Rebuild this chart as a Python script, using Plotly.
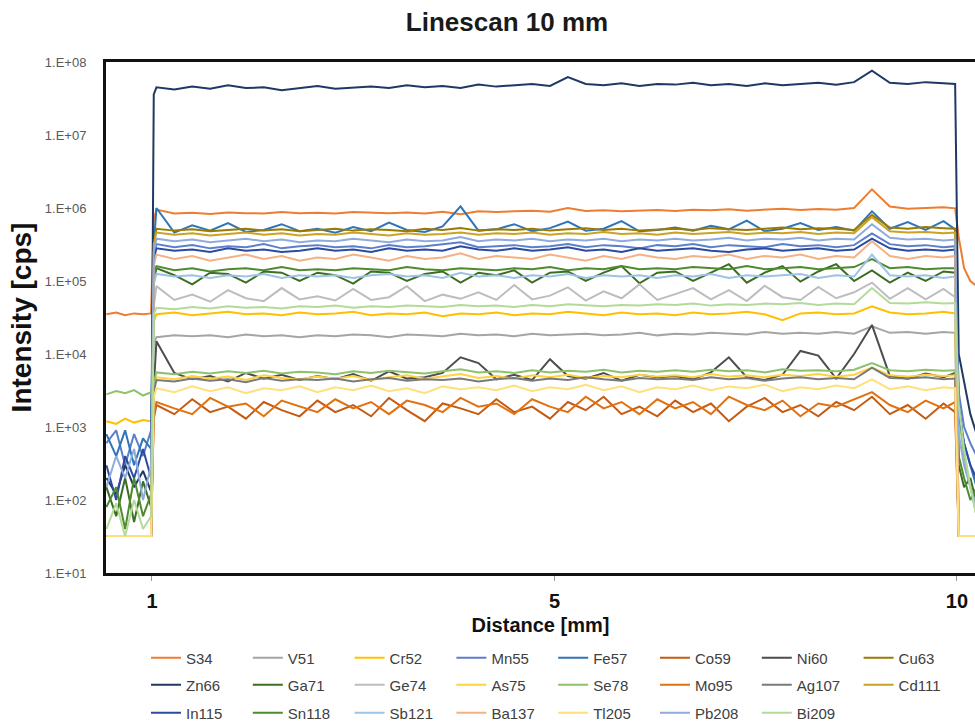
import plotly.graph_objects as go

# ---------------- data ----------------
pre_x = [0.49, 0.6, 0.7, 0.8, 0.9, 0.99]
plateau_x = [1.02, 1.05, 1.25, 1.45, 1.65, 1.85, 2.05, 2.25, 2.45, 2.65,
             2.85, 3.05, 3.25, 3.45, 3.65, 3.85, 4.05, 4.25, 4.45, 4.65,
             4.85, 5.05, 5.25, 5.45, 5.65, 5.85, 6.05, 6.25, 6.45, 6.65,
             6.85, 7.05, 7.25, 7.45, 7.65, 7.85, 8.05, 8.25, 8.45, 8.65,
             8.85, 9.05, 9.25, 9.45, 9.65, 9.85, 9.98]
tail_x = [10.02, 10.08, 10.15, 10.22, 10.3]
distance = pre_x + plateau_x + tail_x

x_tick_vals = [1, 5.5, 10]
x_tick_text = ["1", "5", "10"]
y_tick_vals = [1e1, 1e2, 1e3, 1e4, 1e5, 1e6, 1e7, 1e8]
y_tick_text = ["1.E+01", "1.E+02", "1.E+03", "1.E+04", "1.E+05", "1.E+06", "1.E+07", "1.E+08"]

floor_pre = [32, 32, 32, 32, 32, 32]
floor_tail = [32, 32, 32, 32, 32]

S34_pre = [3.5e4, 3.7e4, 3.4e4, 3.6e4, 3.5e4, 3.6e4]
S34_plat = [7.0e5, 9.5e5, 8.4e5, 8.6e5, 8.3e5, 8.7e5, 8.5e5, 8.4e5, 8.8e5, 8.5e5,
            8.6e5, 8.4e5, 8.8e5, 8.6e5, 8.5e5, 8.7e5, 8.4e5, 8.9e5, 8.2e5, 9.0e5,
            8.8e5, 9.0e5, 9.2e5, 8.9e5, 1.0e6, 9.1e5, 9.3e5, 9.0e5, 9.2e5, 9.4e5,
            9.1e5, 9.5e5, 9.3e5, 9.6e5, 9.2e5, 9.5e5, 9.8e5, 9.4e5, 9.7e5, 9.5e5,
            1.0e6, 1.8e6, 1.05e6, 9.8e5, 1.0e6, 1.02e6, 9.9e5]
S34_tail = [4.0e5, 1.5e5, 1.0e5, 8.5e4, 8.0e4]

V51_plat = [1.4e4, 1.7e4, 1.8e4, 1.75e4, 1.8e4, 1.7e4, 1.85e4, 1.75e4, 1.8e4, 1.7e4,
            1.8e4, 1.75e4, 1.85e4, 1.8e4, 1.7e4, 1.85e4, 1.8e4, 1.75e4, 1.9e4, 1.8e4,
            1.85e4, 1.75e4, 1.9e4, 1.8e4, 1.85e4, 1.9e4, 1.8e4, 1.85e4, 1.95e4, 1.8e4,
            1.9e4, 1.85e4, 1.95e4, 1.9e4, 1.85e4, 2.0e4, 1.9e4, 1.95e4, 1.9e4, 2.0e4,
            1.9e4, 2.4e4, 1.95e4, 2.0e4, 1.9e4, 2.0e4, 1.95e4]

Cr52_pre = [1.2e3, 1.1e3, 1.3e3, 1.15e3, 1.25e3, 1.2e3]
Cr52_plat = [2.8e4, 3.5e4, 3.7e4, 3.4e4, 3.6e4, 3.8e4, 3.5e4, 3.6e4, 3.4e4, 3.7e4,
             3.5e4, 3.6e4, 3.8e4, 3.4e4, 3.6e4, 3.5e4, 3.7e4, 3.3e4, 3.6e4, 3.5e4,
             3.7e4, 3.4e4, 3.6e4, 3.5e4, 3.8e4, 3.6e4, 3.4e4, 3.7e4, 3.5e4, 3.6e4,
             3.4e4, 3.7e4, 3.5e4, 3.6e4, 3.8e4, 3.5e4, 2.9e4, 3.6e4, 3.7e4, 3.5e4,
             3.6e4, 4.5e4, 3.7e4, 3.5e4, 3.6e4, 3.8e4, 3.6e4]

Mn55_pre = [6e2, 9e2, 3e2, 8e2, 4e2, 9e2]
Mn55_plat = [2.2e5, 3.2e5, 2.9e5, 3.1e5, 2.8e5, 3.0e5, 2.9e5, 3.2e5, 2.8e5, 3.0e5,
             3.1e5, 2.9e5, 3.0e5, 2.8e5, 3.1e5, 2.9e5, 3.0e5, 3.2e5, 3.4e5, 2.9e5,
             3.0e5, 3.1e5, 2.9e5, 3.0e5, 3.2e5, 2.9e5, 3.1e5, 3.0e5, 2.8e5, 3.1e5,
             3.0e5, 3.2e5, 2.9e5, 3.1e5, 3.0e5, 2.9e5, 3.2e5, 3.0e5, 3.1e5, 2.9e5,
             3.1e5, 4.5e5, 3.2e5, 3.0e5, 3.1e5, 2.9e5, 3.0e5]
Mn55_tail = [3e3, 1e3, 6e2, 4e2, 3e2]

Fe57_pre = [8e2, 4e2, 9e2, 3e2, 7e2, 5e2]
Fe57_plat = [3.0e5, 1.0e6, 4.6e5, 5.8e5, 4.9e5, 6.2e5, 4.7e5, 5.0e5, 6.0e5, 4.8e5,
             5.2e5, 4.6e5, 5.5e5, 4.8e5, 6.3e5, 5.0e5, 4.7e5, 5.6e5, 1.05e6, 4.9e5,
             5.1e5, 6.0e5, 4.8e5, 5.3e5, 6.5e5, 4.9e5, 5.2e5, 6.6e5, 4.8e5, 5.0e5,
             5.4e5, 4.9e5, 5.7e5, 5.1e5, 6.7e5, 4.8e5, 5.2e5, 6.2e5, 5.0e5, 5.5e5,
             4.9e5, 9.0e5, 5.2e5, 6.4e5, 5.0e5, 6.6e5, 5.1e5]
Fe57_tail = [2e3, 6e2, 3e2, 1.5e2, 1e2]

Co59_plat = [1.3e3, 2.0e3, 1.5e3, 2.4e3, 1.6e3, 1.9e3, 1.3e3, 2.2e3, 1.7e3, 1.4e3,
             2.3e3, 1.6e3, 2.0e3, 1.4e3, 2.5e3, 1.7e3, 1.2e3, 2.1e3, 1.8e3, 1.5e3,
             2.4e3, 1.6e3, 1.9e3, 1.3e3, 2.2e3, 1.7e3, 2.6e3, 1.5e3, 1.9e3, 1.4e3,
             2.3e3, 1.6e3, 2.1e3, 1.2e3, 1.9e3, 2.5e3, 1.6e3, 2.0e3, 1.4e3, 2.2e3,
             1.7e3, 2.6e3, 1.5e3, 2.0e3, 1.3e3, 2.1e3, 1.6e3]

Ni60_plat = [3.5e3, 1.5e4, 5.5e3, 4.5e3, 5.0e3, 4.2e3, 5.5e3, 4.6e3, 5.2e3, 4.4e3,
             5.0e3, 4.5e3, 5.3e3, 4.3e3, 5.8e3, 4.6e3, 4.8e3, 5.5e3, 9.0e3, 7.5e3,
             4.5e3, 5.2e3, 4.4e3, 8.5e3, 5.0e3, 4.6e3, 5.5e3, 4.3e3, 5.2e3, 4.8e3,
             5.0e3, 4.5e3, 5.6e3, 9.0e3, 4.8e3, 4.4e3, 5.2e3, 1.1e4, 9.5e3, 4.6e3,
             1.0e4, 2.5e4, 5.0e3, 4.6e3, 5.4e3, 4.8e3, 5.5e3]

Cu63_plat = [3.5e5, 5.2e5, 4.9e5, 5.1e5, 4.8e5, 5.0e5, 5.2e5, 4.9e5, 5.1e5, 4.8e5,
             5.0e5, 5.2e5, 4.9e5, 5.1e5, 5.0e5, 4.8e5, 5.2e5, 5.0e5, 5.3e5, 4.9e5,
             5.1e5, 5.0e5, 5.2e5, 4.9e5, 5.1e5, 5.3e5, 5.0e5, 5.2e5, 4.9e5, 5.1e5,
             5.2e5, 5.0e5, 5.3e5, 5.1e5, 5.0e5, 5.2e5, 5.4e5, 5.1e5, 5.3e5, 5.2e5,
             5.0e5, 8.0e5, 5.4e5, 5.2e5, 5.5e5, 5.3e5, 5.2e5]

Zn66_pre = [2e2, 1.2e2, 3e2, 1.5e2, 2.5e2, 1.3e2]
Zn66_plat = [3.6e7, 4.5e7, 4.2e7, 4.6e7, 4.3e7, 4.8e7, 4.4e7, 4.5e7, 4.1e7, 4.4e7,
             4.7e7, 4.3e7, 4.5e7, 4.6e7, 4.4e7, 4.8e7, 4.5e7, 4.7e7, 4.4e7, 4.9e7,
             4.6e7, 4.8e7, 5.0e7, 4.7e7, 6.2e7, 5.0e7, 4.8e7, 5.1e7, 4.7e7, 5.0e7,
             4.9e7, 5.2e7, 4.8e7, 5.0e7, 4.7e7, 5.1e7, 4.8e7, 5.0e7, 5.2e7, 4.9e7,
             5.3e7, 7.6e7, 5.2e7, 5.0e7, 5.3e7, 5.1e7, 5.0e7]
Zn66_tail = [1e4, 4e3, 1.5e3, 8e2, 5e2]

Ga71_pre = [1.5e2, 60, 2e2, 50, 1.8e2, 80]
Ga71_plat = [1.0e5, 1.5e5, 1.2e5, 9.0e4, 1.3e5, 1.25e5, 9.5e4, 1.35e5, 1.3e5, 1.0e5,
             1.3e5, 1.2e5, 9.2e4, 1.35e5, 1.3e5, 1.0e5, 1.25e5, 1.35e5, 9.5e4, 1.3e5,
             1.2e5, 1.4e5, 9.5e4, 1.3e5, 1.35e5, 1.0e5, 1.3e5, 1.6e5, 9.3e4, 1.3e5,
             1.35e5, 1.0e5, 1.3e5, 1.7e5, 9.5e4, 1.3e5, 1.6e5, 9.8e4, 1.35e5, 1.7e5,
             1.0e5, 1.4e5, 9.5e4, 1.3e5, 1.0e5, 1.35e5, 1.3e5]
Ga71_tail = [3e2, 1.5e2, 2e2, 90, 1.2e2]

Ge74_plat = [4.5e4, 8.5e4, 5.5e4, 6.5e4, 5.2e4, 7.5e4, 5.8e4, 5.3e4, 8.0e4, 5.6e4,
             6.2e4, 5.4e4, 7.8e4, 5.5e4, 6.0e4, 8.5e4, 5.3e4, 6.5e4, 5.7e4, 7.0e4,
             5.5e4, 8.8e4, 5.6e4, 6.3e4, 8.2e4, 5.4e4, 7.2e4, 5.8e4, 9.0e4, 5.5e4,
             6.6e4, 8.0e4, 5.6e4, 7.5e4, 5.3e4, 8.6e4, 6.0e4, 5.5e4, 8.3e4, 5.8e4,
             7.0e4, 9.5e4, 5.7e4, 8.0e4, 5.6e4, 7.8e4, 6.0e4]

As75_plat = [3.5e3, 4.8e3, 4.5e3, 5.0e3, 4.6e3, 4.9e3, 4.4e3, 5.1e3, 4.7e3, 4.5e3,
             4.9e3, 4.6e3, 5.0e3, 4.4e3, 4.8e3, 5.1e3, 4.6e3, 4.9e3, 5.3e3, 4.7e3,
             5.0e3, 4.6e3, 5.1e3, 4.8e3, 5.2e3, 4.7e3, 5.0e3, 4.8e3, 5.2e3, 4.9e3,
             5.1e3, 4.8e3, 5.3e3, 4.9e3, 5.1e3, 4.8e3, 5.2e3, 5.0e3, 5.3e3, 4.9e3,
             5.2e3, 6.5e3, 5.1e3, 4.9e3, 5.2e3, 5.0e3, 5.1e3]

Se78_pre = [2.8e3, 3.1e3, 2.9e3, 3.2e3, 2.7e3, 3.0e3]
Se78_plat = [4.0e3, 5.6e3, 5.3e3, 5.7e3, 5.4e3, 5.8e3, 5.5e3, 5.9e3, 5.4e3, 5.7e3,
             5.6e3, 5.3e3, 5.8e3, 5.5e3, 5.9e3, 5.6e3, 5.4e3, 5.8e3, 6.2e3, 5.6e3,
             5.8e3, 5.5e3, 6.0e3, 5.6e3, 5.9e3, 5.7e3, 6.1e3, 5.6e3, 5.9e3, 5.7e3,
             6.0e3, 5.7e3, 6.1e3, 5.8e3, 6.0e3, 5.6e3, 6.2e3, 5.9e3, 6.0e3, 5.8e3,
             6.1e3, 7.5e3, 6.0e3, 5.8e3, 6.1e3, 5.9e3, 6.0e3]
Se78_tail = [1.5e3, 4e2, 1.5e2, 60, 40]

Mo95_plat = [1.5e3, 2.2e3, 1.8e3, 1.5e3, 2.5e3, 1.9e3, 2.1e3, 1.4e3, 2.3e3, 1.9e3,
             1.6e3, 2.4e3, 1.8e3, 2.2e3, 1.5e3, 2.3e3, 2.0e3, 1.6e3, 2.5e3, 1.9e3,
             2.1e3, 1.5e3, 2.4e3, 1.9e3, 1.6e3, 2.6e3, 1.8e3, 2.2e3, 1.5e3, 2.4e3,
             1.8e3, 2.2e3, 1.5e3, 2.6e3, 2.0e3, 1.7e3, 2.3e3, 1.4e3, 2.1e3, 1.9e3,
             2.4e3, 3.0e3, 2.0e3, 1.6e3, 2.3e3, 1.8e3, 2.2e3]

Ag107_plat = [3.0e3, 4.4e3, 4.2e3, 4.6e3, 4.3e3, 4.5e3, 4.1e3, 4.7e3, 4.3e3, 4.5e3,
              4.4e3, 4.6e3, 4.2e3, 4.5e3, 4.7e3, 4.3e3, 4.5e3, 4.4e3, 4.6e3, 4.2e3,
              4.5e3, 4.7e3, 4.3e3, 4.6e3, 4.4e3, 4.8e3, 4.5e3, 4.3e3, 4.7e3, 4.5e3,
              4.6e3, 4.4e3, 4.8e3, 4.5e3, 4.7e3, 4.3e3, 4.6e3, 4.8e3, 4.5e3, 4.7e3,
              4.5e3, 6.5e3, 4.7e3, 4.6e3, 4.8e3, 4.5e3, 4.6e3]

Cd111_plat = [3.2e5, 4.6e5, 4.3e5, 4.5e5, 4.2e5, 4.4e5, 4.6e5, 4.3e5, 4.5e5, 4.2e5,
              4.4e5, 4.3e5, 4.6e5, 4.4e5, 4.2e5, 4.5e5, 4.3e5, 4.4e5, 4.6e5, 4.3e5,
              4.5e5, 4.4e5, 4.6e5, 4.3e5, 4.5e5, 4.4e5, 4.7e5, 4.4e5, 4.5e5, 4.3e5,
              4.6e5, 4.4e5, 4.5e5, 4.7e5, 4.4e5, 4.6e5, 4.5e5, 4.7e5, 4.4e5, 4.6e5,
              4.5e5, 7.5e5, 4.8e5, 4.6e5, 4.7e5, 4.5e5, 4.6e5]

In115_pre = [3e2, 1e2, 4e2, 2e2, 5e2, 2e2]
In115_plat = [2.0e5, 2.8e5, 2.6e5, 2.7e5, 2.5e5, 2.8e5, 2.6e5, 2.7e5, 2.5e5, 2.6e5,
              2.8e5, 2.6e5, 2.7e5, 2.5e5, 2.8e5, 2.6e5, 2.7e5, 2.6e5, 3.0e5, 2.7e5,
              2.6e5, 2.8e5, 2.6e5, 2.7e5, 2.9e5, 2.6e5, 2.7e5, 2.5e5, 2.8e5, 2.6e5,
              2.7e5, 2.8e5, 2.6e5, 2.5e5, 2.7e5, 2.8e5, 2.6e5, 2.7e5, 2.8e5, 2.6e5,
              2.7e5, 3.8e5, 2.8e5, 2.6e5, 2.7e5, 2.6e5, 2.7e5]
In115_tail = [1.5e3, 6e2, 3e2, 2e2, 1.2e2]

Sn118_pre = [80, 1.5e2, 40, 2e2, 60, 1.2e2]
Sn118_plat = [1.1e5, 1.6e5, 1.4e5, 1.5e5, 1.35e5, 1.45e5, 1.5e5, 1.4e5, 1.55e5, 1.4e5,
              1.45e5, 1.4e5, 1.5e5, 1.45e5, 1.4e5, 1.55e5, 1.45e5, 1.4e5, 1.5e5, 1.45e5,
              1.4e5, 1.5e5, 1.45e5, 1.55e5, 1.4e5, 1.5e5, 1.45e5, 1.6e5, 1.45e5, 1.5e5,
              1.45e5, 1.55e5, 1.5e5, 1.45e5, 1.6e5, 1.45e5, 1.5e5, 1.55e5, 1.45e5, 1.5e5,
              1.55e5, 2.0e5, 1.5e5, 1.55e5, 1.45e5, 1.5e5, 1.5e5]
Sn118_tail = [4e2, 2e2, 1e2, 1.5e2, 80]

Sb121_plat = [9.0e4, 1.25e5, 1.15e5, 1.2e5, 1.1e5, 1.2e5, 1.15e5, 1.25e5, 1.1e5, 1.2e5,
              1.15e5, 1.2e5, 1.1e5, 1.2e5, 1.25e5, 1.15e5, 1.2e5, 1.1e5, 1.3e5, 1.15e5,
              1.2e5, 1.1e5, 1.2e5, 1.15e5, 1.25e5, 1.1e5, 1.2e5, 1.15e5, 1.2e5, 1.1e5,
              1.2e5, 1.15e5, 1.25e5, 1.1e5, 1.2e5, 1.15e5, 1.2e5, 1.25e5, 1.1e5, 1.2e5,
              1.15e5, 2.3e5, 1.2e5, 1.15e5, 1.2e5, 1.1e5, 1.15e5]

Ba137_plat = [1.6e5, 2.3e5, 2.0e5, 2.2e5, 1.9e5, 2.1e5, 2.3e5, 2.0e5, 2.2e5, 1.9e5,
              2.1e5, 2.0e5, 2.3e5, 2.1e5, 1.9e5, 2.2e5, 2.0e5, 2.1e5, 2.4e5, 2.0e5,
              2.2e5, 2.1e5, 2.0e5, 2.3e5, 2.1e5, 1.9e5, 2.2e5, 2.0e5, 2.3e5, 2.1e5,
              2.0e5, 2.2e5, 2.1e5, 2.3e5, 2.0e5, 2.2e5, 2.1e5, 2.3e5, 2.0e5, 2.2e5,
              2.1e5, 3.5e5, 2.2e5, 2.0e5, 2.2e5, 2.1e5, 2.2e5]

Tl205_plat = [2.5e3, 3.4e3, 3.0e3, 3.6e3, 3.1e3, 3.5e3, 2.9e3, 3.4e3, 3.2e3, 3.6e3,
              3.0e3, 3.5e3, 3.2e3, 3.7e3, 3.1e3, 3.4e3, 2.9e3, 3.6e3, 3.3e3, 3.5e3,
              3.2e3, 3.7e3, 3.1e3, 3.5e3, 3.3e3, 3.8e3, 3.2e3, 3.6e3, 3.0e3, 3.5e3,
              3.3e3, 3.7e3, 3.2e3, 3.6e3, 3.4e3, 3.8e3, 3.1e3, 3.5e3, 3.3e3, 3.7e3,
              3.4e3, 4.5e3, 3.3e3, 3.6e3, 3.2e3, 3.5e3, 3.4e3]

Pb208_pre = [1.5e2, 4e2, 2e2, 5e2, 1e2, 3e2]
Pb208_plat = [2.5e5, 3.8e5, 3.5e5, 3.7e5, 3.4e5, 3.6e5, 3.8e5, 3.5e5, 3.7e5, 3.4e5,
              3.6e5, 3.5e5, 3.8e5, 3.6e5, 3.4e5, 3.7e5, 3.5e5, 3.6e5, 4.0e5, 3.5e5,
              3.7e5, 3.6e5, 3.8e5, 3.5e5, 3.7e5, 3.6e5, 3.8e5, 3.5e5, 3.7e5, 3.6e5,
              3.8e5, 3.6e5, 3.7e5, 3.9e5, 3.6e5, 3.8e5, 3.7e5, 3.9e5, 3.6e5, 3.8e5,
              3.7e5, 6.0e5, 3.9e5, 3.7e5, 3.8e5, 3.6e5, 3.7e5]
Pb208_tail = [8e2, 3e2, 1.5e2, 80, 50]

Bi209_pre = [40, 90, 32, 1.0e2, 40, 60]
Bi209_plat = [3.5e4, 4.3e4, 4.1e4, 4.4e4, 4.2e4, 4.5e4, 4.3e4, 4.4e4, 4.2e4, 4.5e4,
              4.4e4, 4.6e4, 4.3e4, 4.5e4, 4.4e4, 4.6e4, 4.5e4, 4.4e4, 4.7e4, 4.5e4,
              4.6e4, 4.4e4, 4.7e4, 4.5e4, 4.8e4, 4.6e4, 4.5e4, 4.7e4, 4.6e4, 4.8e4,
              4.7e4, 4.9e4, 4.6e4, 4.8e4, 4.7e4, 4.9e4, 4.8e4, 5.0e4, 4.7e4, 4.9e4,
              4.8e4, 8.0e4, 5.0e4, 4.9e4, 5.1e4, 4.9e4, 5.0e4]
Bi209_tail = [2e3, 5e2, 1.5e2, 60, 40]

series = [
    ("S34", S34_pre + S34_plat + S34_tail),
    ("V51", floor_pre + V51_plat + floor_tail),
    ("Cr52", Cr52_pre + Cr52_plat + floor_tail),
    ("Mn55", Mn55_pre + Mn55_plat + Mn55_tail),
    ("Fe57", Fe57_pre + Fe57_plat + Fe57_tail),
    ("Co59", floor_pre + Co59_plat + floor_tail),
    ("Ni60", floor_pre + Ni60_plat + floor_tail),
    ("Cu63", floor_pre + Cu63_plat + floor_tail),
    ("Zn66", Zn66_pre + Zn66_plat + Zn66_tail),
    ("Ga71", Ga71_pre + Ga71_plat + Ga71_tail),
    ("Ge74", floor_pre + Ge74_plat + floor_tail),
    ("As75", floor_pre + As75_plat + floor_tail),
    ("Se78", Se78_pre + Se78_plat + Se78_tail),
    ("Mo95", floor_pre + Mo95_plat + floor_tail),
    ("Ag107", floor_pre + Ag107_plat + floor_tail),
    ("Cd111", floor_pre + Cd111_plat + floor_tail),
    ("In115", In115_pre + In115_plat + In115_tail),
    ("Sn118", Sn118_pre + Sn118_plat + Sn118_tail),
    ("Sb121", floor_pre + Sb121_plat + floor_tail),
    ("Ba137", floor_pre + Ba137_plat + floor_tail),
    ("Tl205", floor_pre + Tl205_plat + floor_tail),
    ("Pb208", Pb208_pre + Pb208_plat + Pb208_tail),
    ("Bi209", Bi209_pre + Bi209_plat + Bi209_tail),
]

# ---------------- styles ----------------
colors = {
    "S34": "#ED7D31", "V51": "#A5A5A5", "Cr52": "#FFC000", "Mn55": "#5B7FCC",
    "Fe57": "#2E75B6", "Co59": "#C55A11", "Ni60": "#4D4D4D", "Cu63": "#9C7A00",
    "Zn66": "#1F3864", "Ga71": "#3B6E22", "Ge74": "#BDBDBD", "As75": "#FFD23F",
    "Se78": "#8DC26A", "Mo95": "#E2700F", "Ag107": "#7A7A7A", "Cd111": "#C9A227",
    "In115": "#2B4BA0", "Sn118": "#4E8A2E", "Sb121": "#9DC3E6", "Ba137": "#F4B183",
    "Tl205": "#FFE07A", "Pb208": "#8FAADC", "Bi209": "#B4DA9A",
}

for name, vals in series:
    assert len(vals) == len(distance), (name, len(vals))

legend_ids = ["legend", "legend2", "legend3"]

fig = go.Figure()
for i, (name, vals) in enumerate(series):
    fig.add_trace(go.Scatter(x=distance, y=vals, mode="lines", name=name,
                             legend=legend_ids[i // 8],
                             line=dict(color=colors[name], width=2)))

FONT = "Liberation Sans, Arial, sans-serif"
leg_common = dict(orientation="h", xref="container", yref="container",
                  x=146 / 975, xanchor="left", yanchor="middle",
                  entrywidth=56.8, entrywidthmode="pixels",
                  font=dict(family=FONT, size=15, color="#404040"),
                  traceorder="normal", itemwidth=30, bgcolor="rgba(0,0,0,0)")
row_centers = [658, 685, 713]

fig.update_layout(
    width=975, height=726,
    margin=dict(l=106, r=0, t=62, b=153),
    paper_bgcolor="white", plot_bgcolor="white",
    font=dict(family=FONT, color="#222"),
    title=dict(text="<b>Linescan 10 mm</b>", x=507 / 975, xanchor="center",
               y=1 - 22 / 726, yanchor="middle",
               font=dict(family=FONT, size=26, color="#1a1a1a")),
    legend=dict(y=1 - row_centers[0] / 726, **leg_common),
    legend2=dict(y=1 - row_centers[1] / 726, **leg_common),
    legend3=dict(y=1 - row_centers[2] / 726, **leg_common),
    showlegend=True,
)
fig.update_xaxes(range=[0.486, 10.202], showline=True, linecolor="#111", linewidth=3,
                 mirror=True, showgrid=False, zeroline=False,
                 tickvals=x_tick_vals, ticktext=x_tick_text, ticks="outside",
                 ticklen=5, tickwidth=1, tickcolor="#999", ticklabelstandoff=3,
                 tickfont=dict(family=FONT, size=20, color="#111", weight="bold"),
                 title=dict(text="<b>Distance [mm]</b>", standoff=7,
                            font=dict(family=FONT, size=20, color="#111")),
                 automargin=False)
fig.update_yaxes(type="log", range=[1, 8], showline=True, linecolor="#111", linewidth=3,
                 showgrid=False, zeroline=False, ticks="",
                 tickvals=y_tick_vals, ticktext=y_tick_text, ticklabelstandoff=14,
                 tickfont=dict(family=FONT, size=13, color="#595959"),
                 title=dict(text="<b>Intensity [cps]</b>", standoff=6,
                            font=dict(family=FONT, size=28, color="#111")),
                 automargin=False)

fig.write_html("out.html")
